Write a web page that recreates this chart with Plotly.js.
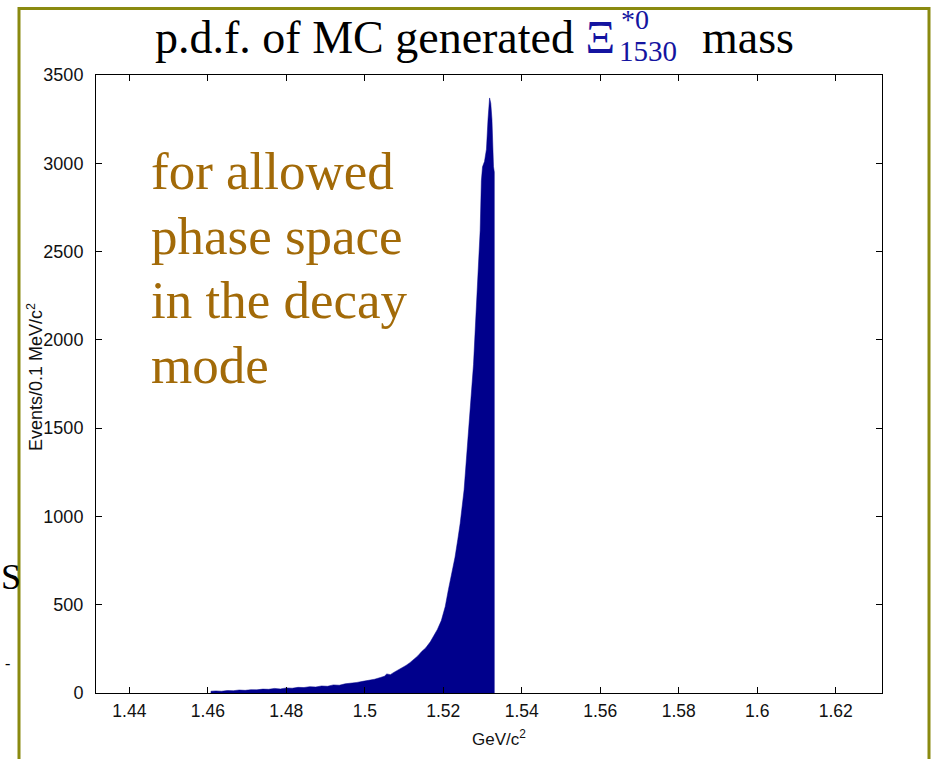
<!DOCTYPE html>
<html>
<head>
<meta charset="utf-8">
<script src="https://cdn.plot.ly/plotly-3.0.1.min.js"></script>
<style>
html,body{margin:0;padding:0;background:#fff;}
#chart{width:932px;height:759px;}
</style>
</head>
<body>
<div id="chart"></div>
<script>
// Histogram envelope of MC generated Xi*0(1530) mass (GeV/c^2) vs events per 0.1 MeV/c^2
const massGeV = [
  1.4608, 1.4608, 1.4620, 1.4635, 1.4650, 1.4665, 1.4680, 1.4695, 1.4710, 1.4725,
  1.4740, 1.4755, 1.4770, 1.4785, 1.4800, 1.4815, 1.4830, 1.4845, 1.4860, 1.4875,
  1.4890, 1.4905, 1.4920, 1.4935, 1.4950, 1.4965, 1.4980, 1.4995, 1.5010, 1.5025,
  1.5040, 1.5050, 1.5056, 1.5065, 1.5075, 1.5085, 1.5095, 1.5105, 1.5115, 1.5125,
  1.5135, 1.5145, 1.5155, 1.5167, 1.5175, 1.5185, 1.5195, 1.5205, 1.5213, 1.5222,
  1.5230, 1.5237, 1.5243, 1.5253, 1.5259, 1.5264, 1.5270, 1.5277, 1.5281, 1.5288,
  1.5294, 1.5297, 1.5300, 1.5305, 1.5310, 1.5314, 1.5318, 1.5321, 1.5324, 1.5328,
  1.5330, 1.5330
];
const events = [
  0, 10, 12, 10, 14, 13, 17, 15, 19, 18,
  22, 21, 26, 23, 29, 27, 32, 31, 36, 34,
  40, 38, 46, 44, 52, 55, 60, 66, 70, 78,
  88, 95, 108, 104, 118, 130, 140, 156, 172, 190,
  210, 235, 255, 290, 320, 360, 410, 490, 585, 680,
  770, 870, 960, 1150, 1330, 1500, 1700, 1860, 2040, 2330,
  2620, 2900, 2980, 3010, 3080, 3250, 3370, 3340, 3250, 2980,
  2950, 0
];
const xTickVals = [1.44, 1.46, 1.48, 1.50, 1.52, 1.54, 1.56, 1.58, 1.60, 1.62];
const xTickText = ["1.44", "1.46", "1.48", "1.5", "1.52", "1.54", "1.56", "1.58", "1.6", "1.62"];
const yTickVals = [0, 500, 1000, 1500, 2000, 2500, 3000, 3500];
const yTickText = ["0", "500", "1000", "1500", "2000", "2500", "3000", "3500"];
const noteLines = ["for allowed", "phase space", "in the decay", "mode"];

const W = 932, H = 759;
const L = 96, R = 882, T = 74.5, B = 693.3;
const px = x => (x - L) / (R - L);
const py = y => (B - y) / (B - T);

const trace = {
  x: massGeV, y: events, type: 'scatter', mode: 'lines',
  line: {color: '#00008c', width: 0.5, shape: 'linear'},
  fill: 'toself', fillcolor: '#00008c', hoverinfo: 'skip'
};

const serif = '"Liberation Serif", "Times New Roman", serif';
const sans = '"Liberation Sans", Arial, sans-serif';
const annotations = [];
// main title pieces
annotations.push({text: 'p.d.f. of MC generated <span style="color:#1414a0">Ξ</span>', xref: 'paper', yref: 'paper',
  x: px(617), y: py(37), xanchor: 'right', yanchor: 'middle', showarrow: false,
  font: {family: serif, size: 46, color: '#000'}});
annotations.push({text: '*0', xref: 'paper', yref: 'paper', x: px(619), y: py(19), xanchor: 'left', yanchor: 'middle',
  showarrow: false, font: {family: serif, size: 28, color: '#1414a0'}});
annotations.push({text: '1530', xref: 'paper', yref: 'paper', x: px(617), y: py(50), xanchor: 'left', yanchor: 'middle',
  showarrow: false, font: {family: serif, size: 29, color: '#1414a0'}});
annotations.push({text: 'mass', xref: 'paper', yref: 'paper', x: px(700), y: py(37), xanchor: 'left', yanchor: 'middle',
  showarrow: false, font: {family: serif, size: 46, color: '#000'}});
// axis titles
annotations.push({text: 'Events/0.1 MeV/c<sup>2</sup>', xref: 'paper', yref: 'paper', x: px(35), y: py(377),
  xanchor: 'center', yanchor: 'middle', textangle: -90, showarrow: false,
  font: {family: sans, size: 18, color: '#111'}});
annotations.push({text: 'GeV/c<sup>2</sup>', xref: 'paper', yref: 'paper', x: px(499), y: py(738),
  xanchor: 'center', yanchor: 'middle', showarrow: false,
  font: {family: sans, size: 17, color: '#111'}});
// note
noteLines.forEach((t, i) => {
  annotations.push({text: t, xref: 'paper', yref: 'paper', x: px(149), y: py(171 + i * 64.5), xanchor: 'left', yanchor: 'middle',
    showarrow: false, font: {family: serif, size: 53, color: '#a26a08'}});
});
// stray slide text at left edge
annotations.push({text: 'S', xref: 'paper', yref: 'paper', x: px(-1), y: py(577), xanchor: 'left', yanchor: 'middle',
  showarrow: false, font: {family: serif, size: 36, color: '#000'}});
annotations.push({text: '-', xref: 'paper', yref: 'paper', x: px(3), y: py(664), xanchor: 'left', yanchor: 'middle',
  showarrow: false, font: {family: serif, size: 16, color: '#000'}});

const layout = {
  width: W, height: H,
  margin: {l: L, r: W - R, t: T, b: H - B, pad: 0},
  paper_bgcolor: '#fff', plot_bgcolor: '#fff',
  showlegend: false,
  xaxis: {
    range: [1.4315, 1.6318], tickvals: xTickVals, ticktext: xTickText,
    ticks: 'inside', ticklen: 6, tickcolor: '#000', tickwidth: 1,
    showline: true, linecolor: '#000', linewidth: 1, mirror: 'ticks',
    showgrid: false, zeroline: false, ticklabelstandoff: 2,
    tickfont: {family: sans, size: 17.5, color: '#111'}
  },
  yaxis: {
    range: [0, 3500], tickvals: yTickVals, ticktext: yTickText,
    ticks: 'inside', ticklen: 6, tickcolor: '#000', tickwidth: 1,
    showline: true, linecolor: '#000', linewidth: 1, mirror: 'ticks',
    showgrid: false, zeroline: false, ticklabelstandoff: 8,
    tickfont: {family: sans, size: 18, color: '#111'}
  },
  annotations: annotations,
  shapes: [{
    type: 'path', xref: 'paper', yref: 'paper',
    path: `M ${px(19)} ${py(770)} L ${px(19)} ${py(8)} L ${px(929)} ${py(8)} L ${px(929)} ${py(770)}`,
    line: {color: '#8a8a10', width: 3}
  }]
};

Plotly.newPlot('chart', [trace], layout, {staticPlot: true, displayModeBar: false});
</script>
</body>
</html>
